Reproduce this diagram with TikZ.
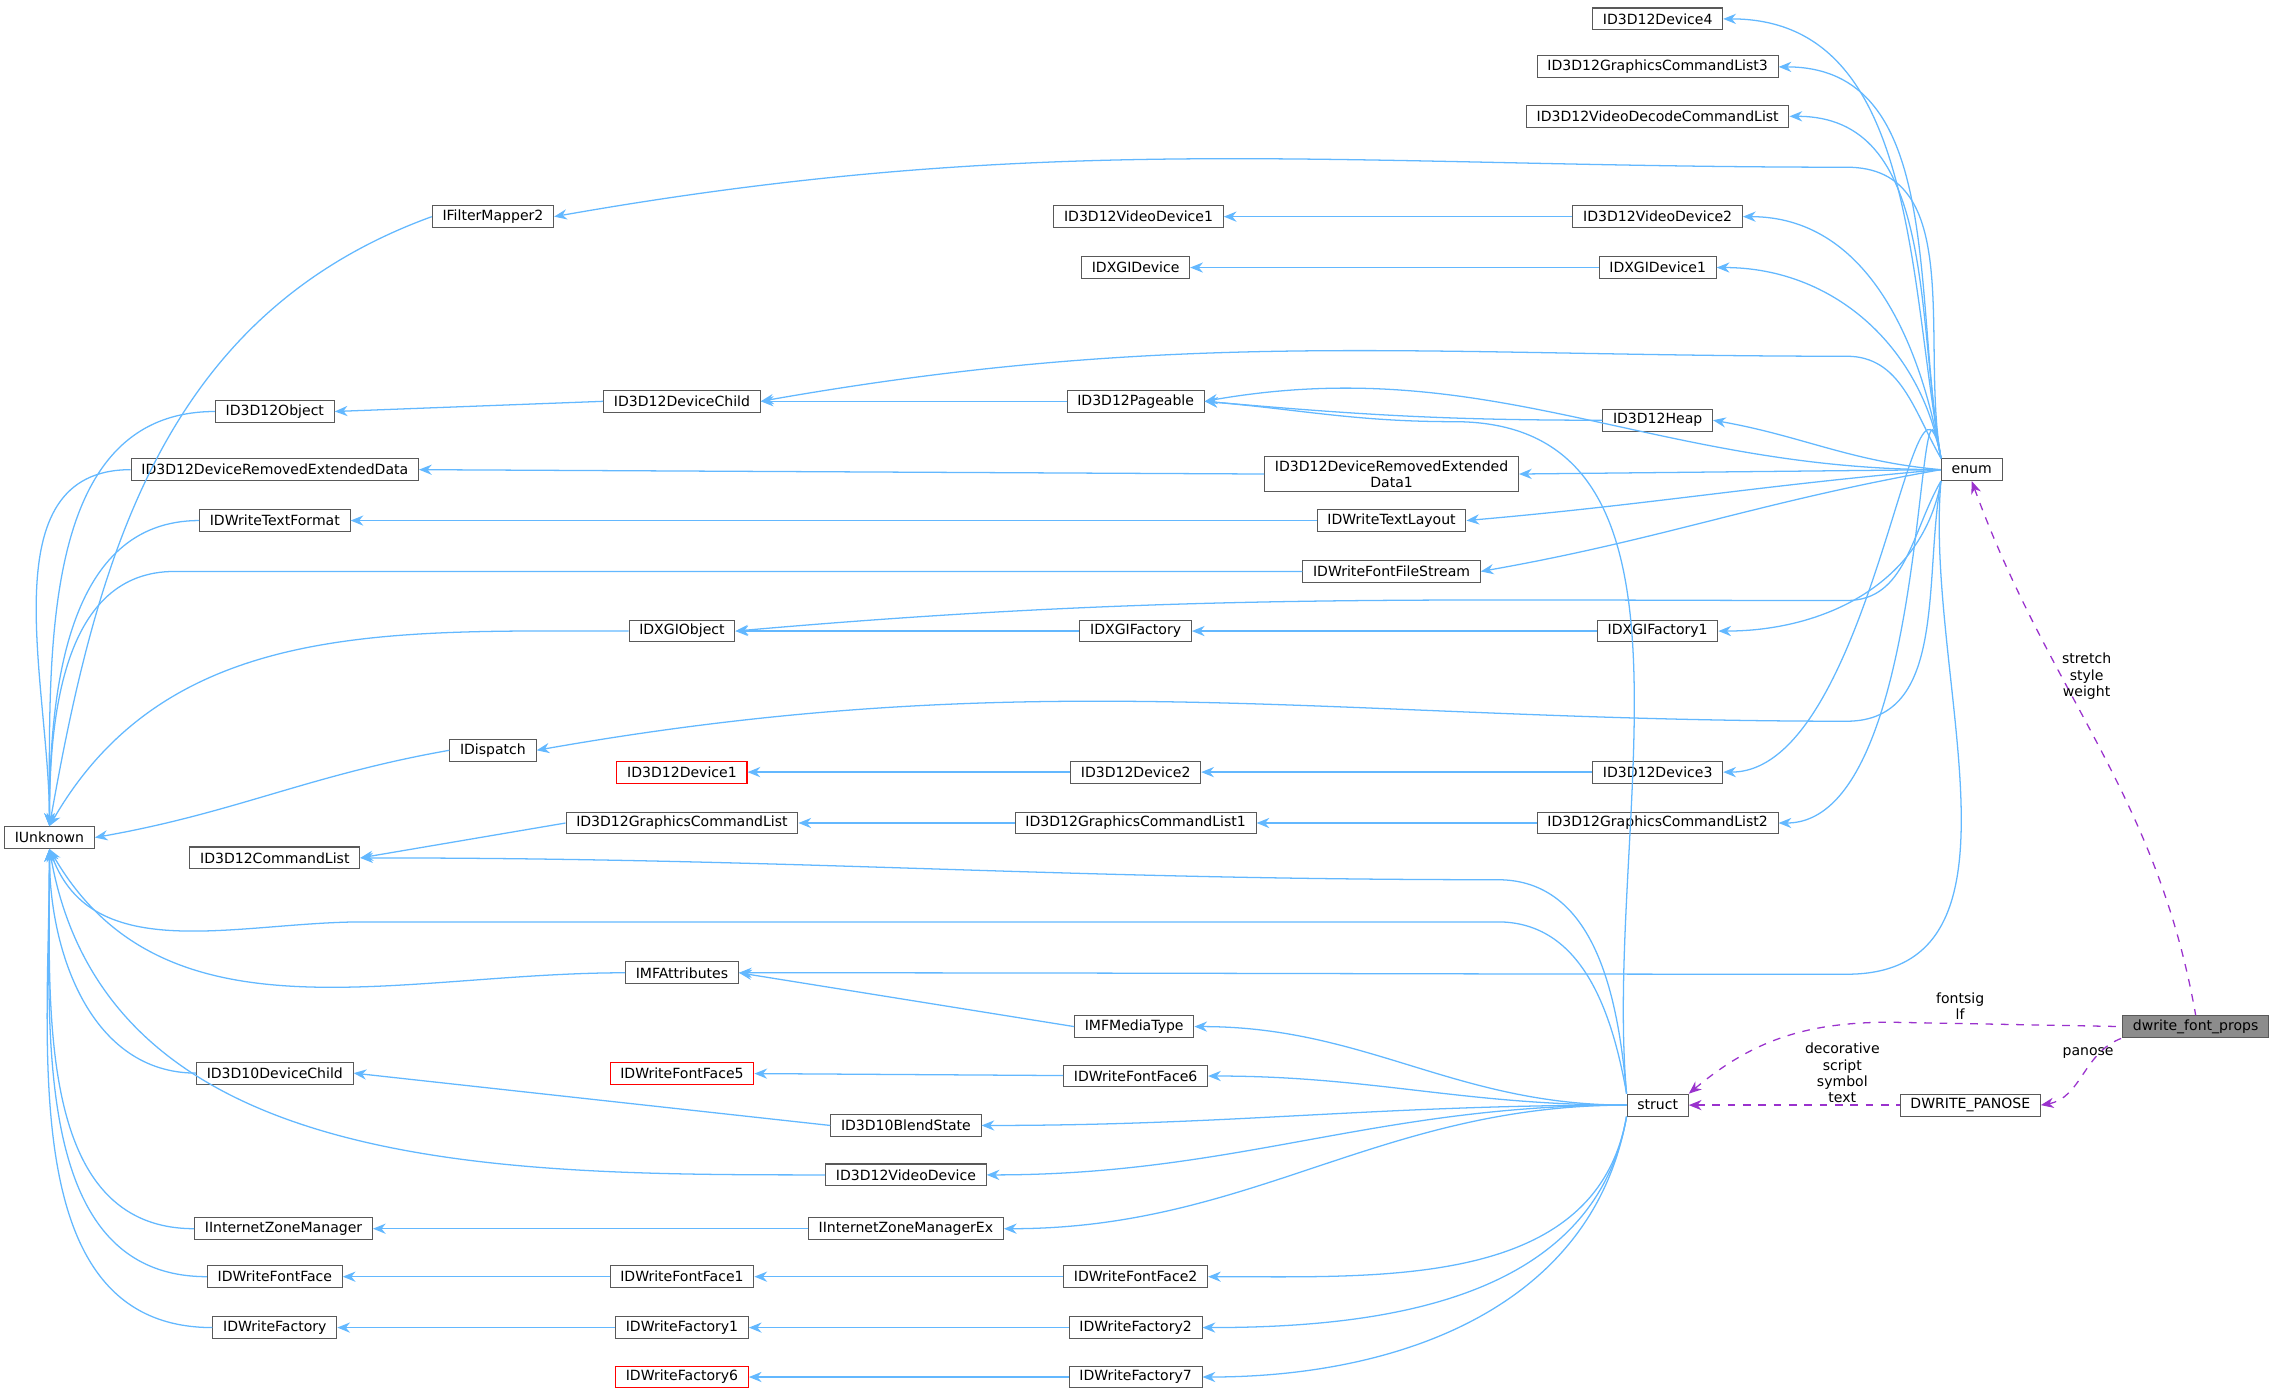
\documentclass[tikz,border=0pt]{standalone}
\usepackage{fontspec}
\setmainfont{DejaVu Sans}
\usetikzlibrary{arrows.meta}
\definecolor{edgeblue}{HTML}{63B8FF}
\definecolor{usepurple}{HTML}{9A32CD}
\tikzset{
  cls/.style={draw=black!65,fill=white,font=\fontsize{5.5}{6.4}\selectfont,inner xsep=4pt,inner ysep=1.5pt,minimum height=0.3cm,align=center},
  red/.style={cls,draw=red},
  inh/.style={draw=edgeblue,line width=0.5pt,{Stealth[length=5pt,width=4pt]}-},
  use/.style={draw=usepurple,line width=0.5pt,dashed,{Stealth[length=5pt,width=4pt]}-},
  lbl/.style={font=\fontsize{5.5}{6.4}\selectfont,align=center}
}
\begin{document}
\begin{tikzpicture}[x=0.02cm,y=-0.02cm]
  \useasboundingbox (0,0) rectangle (1568,962);
  % first column
  \node[cls] (IUnknown) at (34,576) {IUnknown};
  \node[cls] (IFilterMapper2) at (339,149) {IFilterMapper2};
  \node[cls] (D3DObject) at (189,283) {ID3D12Object};
  \node[cls] (DRED) at (189,323) {ID3D12DeviceRemovedExtendedData};
  \node[cls] (TextFormat) at (189,358) {IDWriteTextFormat};
  \node[cls] (IDispatch) at (339,516) {IDispatch};
  \node[cls] (CmdList) at (189,590) {ID3D12CommandList};
  \node[cls] (D10Child) at (189,738) {ID3D10DeviceChild};
  \node[cls] (ZoneMgr) at (195,845) {IInternetZoneManager};
  \node[cls] (FontFace) at (189,878) {IDWriteFontFace};
  \node[cls] (Factory) at (189,913) {IDWriteFactory};
  % second column
  \node[cls] (DevChild) at (469,276) {ID3D12DeviceChild};
  \node[cls] (DXGIObject) at (469,434) {IDXGIObject};
  \node[red] (Device1) at (469,531) {ID3D12Device1};
  \node[cls] (GCL) at (469,566) {ID3D12GraphicsCommandList};
  \node[cls] (MFAttr) at (469,669) {IMFAttributes};
  \node[red] (FontFace5) at (469,738) {IDWriteFontFace5};
  \node[cls] (FontFace1) at (469,878) {IDWriteFontFace1};
  \node[cls] (Factory1) at (469,913) {IDWriteFactory1};
  \node[red] (Factory6) at (469,947) {IDWriteFactory6};
  % third column
  \node[cls] (VideoDev1) at (783,149) {ID3D12VideoDevice1};
  \node[cls] (DXGIDevice) at (781,184) {IDXGIDevice};
  \node[cls] (Pageable) at (781,276) {ID3D12Pageable};
  \node[cls] (DXGIFactory) at (781,434) {IDXGIFactory};
  \node[cls] (Device2) at (781,531) {ID3D12Device2};
  \node[cls] (GCL1) at (781,566) {ID3D12GraphicsCommandList1};
  \node[cls] (MediaType) at (780,706) {IMFMediaType};
  \node[cls] (FontFace6) at (781,740) {IDWriteFontFace6};
  \node[cls] (BlendState) at (623,774) {ID3D10BlendState};
  \node[cls] (VideoDev) at (623,808) {ID3D12VideoDevice};
  \node[cls] (ZoneMgrEx) at (623,845) {IInternetZoneManagerEx};
  \node[cls] (FontFace2) at (781,878) {IDWriteFontFace2};
  \node[cls] (Factory2) at (781,913) {IDWriteFactory2};
  \node[cls] (Factory7) at (781,947) {IDWriteFactory7};
  % fourth column
  \node[cls] (Device4) at (1140,13) {ID3D12Device4};
  \node[cls] (GCL3) at (1140,46) {ID3D12GraphicsCommandList3};
  \node[cls] (VDecode) at (1140,80) {ID3D12VideoDecodeCommandList};
  \node[cls] (VideoDev2) at (1140,149) {ID3D12VideoDevice2};
  \node[cls] (DXGIDevice1) at (1140,184) {IDXGIDevice1};
  \node[cls] (Heap) at (1140,289) {ID3D12Heap};
  \node[cls] (DRED1) at (957,326) {ID3D12DeviceRemovedExtended\\Data1};
  \node[cls] (TextLayout) at (957,358) {IDWriteTextLayout};
  \node[cls] (FileStream) at (957,393) {IDWriteFontFileStream};
  \node[cls] (DXGIFactory1) at (1140,434) {IDXGIFactory1};
  \node[cls] (Device3) at (1140,531) {ID3D12Device3};
  \node[cls] (GCL2) at (1140,566) {ID3D12GraphicsCommandList2};
  \node[cls] (struct) at (1140,760) {struct};
  \node[cls] (Panose) at (1355,760) {DWRITE\_PANOSE};
  % last column
  \node[cls] (enum) at (1356,323) {enum};
  \node[cls,fill=black!45] (props) at (1510,706) {dwrite\_font\_props};

  % bases of enum
  \foreach \b in {Device4,GCL3,VDecode,VideoDev2,DXGIDevice1,Device3,GCL2}
    \draw[inh] (\b.east) to[out=0,in=100] (enum.north west);
  \draw[inh] (IFilterMapper2.east) to[out=10,in=180] (1270,115) to[out=0,in=100] (enum.north west);
  \draw[inh] (DevChild.east) to[out=10,in=180] (1270,245) to[out=0,in=120] (enum.north west);
  \draw[inh] (Pageable.east) to[out=10,in=180] (enum.west);
  \draw[inh] (Heap.east) to[out=-10,in=175] (enum.west);
  \draw[inh] (DRED1.east) -- (enum.west);
  \draw[inh] (TextLayout.east) to[out=5,in=185] (enum.west);
  \draw[inh] (FileStream.east) to[out=10,in=190] (enum.west);
  \draw[inh] (DXGIObject.east) to[out=5,in=180] (1270,413) to[out=0,in=-120] (enum.south west);
  \draw[inh] (DXGIFactory1.east) to[out=0,in=-100] (enum.south west);
  \draw[inh] (IDispatch.east) to[out=10,in=180] (1270,496) to[out=0,in=-100] (enum.south west);
  \draw[inh] (MFAttr.east) to[out=0,in=180] (1270,670) to[out=0,in=-95] (enum.south west);
  % bases of struct
  \draw[inh] (Pageable.east) to[out=-5,in=180] (1000,290) to[out=0,in=95] (struct.north west);
  \draw[inh] (CmdList.east) to[out=0,in=180] (1030,605) to[out=0,in=95] (struct.north west);
  \draw[inh] (IUnknown.south) to[out=-70,in=180] (250,634) -- (1030,634) to[out=0,in=100] (struct.north west);
  \foreach \b in {MediaType,FontFace6,BlendState,VideoDev,ZoneMgrEx}
    \draw[inh] (\b.east) to[out=0,in=180] (struct.west);
  \foreach \b in {FontFace2,Factory2,Factory7}
    \draw[inh] (\b.east) to[out=0,in=-100] (struct.south west);
  % chains
  \draw[inh] (VideoDev1) -- (VideoDev2);
  \draw[inh] (DXGIDevice) -- (DXGIDevice1);
  \draw[inh] (Pageable.east) to[out=-5,in=180] (Heap.west);
  \draw[inh] (DevChild) -- (Pageable);
  \draw[inh] (D3DObject.east) -- (DevChild.west);
  \draw[inh] (DRED.east) -- (DRED1.west);
  \draw[inh] (TextFormat) -- (TextLayout);
  \draw[inh] (DXGIObject) -- (DXGIFactory);
  \draw[inh] (DXGIFactory) -- (DXGIFactory1);
  \draw[inh] (Device1) -- (Device2);
  \draw[inh] (Device2) -- (Device3);
  \draw[inh] (GCL1) -- (GCL2);
  \draw[inh] (GCL) -- (GCL1);
  \draw[inh] (CmdList.east) -- (GCL.west);
  \draw[inh] (MFAttr.east) -- (MediaType.west);
  \draw[inh] (FontFace5) -- (FontFace6);
  \draw[inh] (D10Child.east) -- (BlendState.west);
  \draw[inh] (ZoneMgr) -- (ZoneMgrEx);
  \draw[inh] (FontFace) -- (FontFace1);
  \draw[inh] (FontFace1) -- (FontFace2);
  \draw[inh] (Factory) -- (Factory1);
  \draw[inh] (Factory1) -- (Factory2);
  \draw[inh] (Factory6) -- (Factory7);
  % bases of IUnknown
  \draw[inh] (IUnknown.north) to[out=80,in=200] (IFilterMapper2.west);
  \draw[inh] (IUnknown.north) to[out=90,in=180] (D3DObject.west);
  \draw[inh] (IUnknown.north) to[out=90,in=180] (DRED.west);
  \draw[inh] (IUnknown.north) to[out=90,in=180] (TextFormat.west);
  \draw[inh] (IUnknown.north) to[out=90,in=180] (120,393) -- (FileStream.west);
  \draw[inh] (IUnknown.north) to[out=60,in=180] (DXGIObject.west);
  \draw[inh] (IUnknown.east) to[out=10,in=190] (IDispatch.west);
  \draw[inh] (IUnknown.south) to[out=-60,in=180] (MFAttr.west);
  \draw[inh] (IUnknown.south) to[out=-90,in=180] (D10Child.west);
  \draw[inh] (IUnknown.south) to[out=-80,in=180] (VideoDev.west);
  \draw[inh] (IUnknown.south) to[out=-90,in=180] (ZoneMgr.west);
  \draw[inh] (IUnknown.south) to[out=-90,in=180] (FontFace.west);
  \draw[inh] (IUnknown.south) to[out=-90,in=180] (Factory.west);
  % members
  \draw[use] (enum.south) to[out=-70,in=100] (props.north);
  \node[lbl] at (1435,465) {stretch\\style\\weight};
  \draw[use] (struct.north east) to[out=40,in=180] (1300,703) -- (props.west);
  \node[lbl] at (1348,692) {fontsig\\lf};
  \draw[use] (Panose.east) to[out=10,in=200] (props.south west);
  \node[lbl] at (1436,724) {panose};
  \draw[use] (struct.east) -- (Panose.west);
  \node[lbl] at (1267,738) {decorative\\script\\symbol\\text};
\end{tikzpicture}
\end{document}
